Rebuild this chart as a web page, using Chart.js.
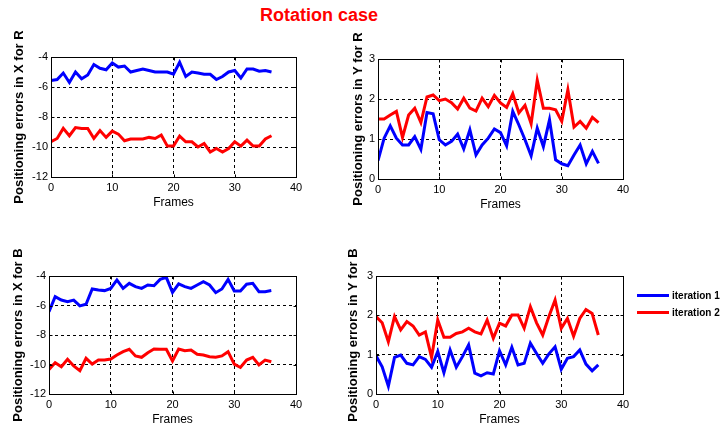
<!DOCTYPE html>
<html>
<head>
<meta charset="utf-8">
<script src="https://cdn.jsdelivr.net/npm/chart.js@4.4.1/dist/chart.umd.min.js"></script>
<style>
body { margin: 0; background: #fff; width: 725px; height: 427px; position: relative; overflow: hidden; font-family: "Liberation Sans", Arial, sans-serif; }
canvas { position: absolute; }
#title { position: absolute; left: 219px; width: 200px; top: 5px; line-height: 20px; text-align: center; color: #f00; font-weight: bold; font-size: 18px; }
.leg-line { position: absolute; left: 637px; width: 32px; height: 3px; }
.leg-text { position: absolute; left: 672px; font-size: 10px; line-height: 12px; font-weight: bold; color: #000; }
</style>
</head>
<body>
<div id="title">Rotation case</div>
<canvas id="c1"></canvas>
<canvas id="c2"></canvas>
<canvas id="c3"></canvas>
<canvas id="c4"></canvas>
<div class="leg-line" style="top:294px;background:#00f"></div>
<div class="leg-text" style="top:290px">iteration 1</div>
<div class="leg-line" style="top:311px;background:#f00"></div>
<div class="leg-text" style="top:307px">iteration 2</div>
<script>
// frame index (x axis)
const frames = [0,1,2,3,4,5,6,7,8,9,10,11,12,13,14,15,16,17,18,19,20,21,22,23,24,25,26,27,28,29,30,31,32,33,34,35,36];
const xTicks = [0, 10, 20, 30, 40];
const yTicksX = [-12, -10, -8, -6, -4];
const yTicksY = [0, 1, 2, 3];
const seriesNames = ['iteration 1', 'iteration 2'];

// X error for R
const xR_it1 = [-5.56,-5.5,-5.07,-5.7,-5.0,-5.45,-5.2,-4.5,-4.75,-4.85,-4.4,-4.67,-4.6,-5.0,-4.9,-4.8,-4.9,-5.0,-5.0,-5.0,-5.15,-4.35,-5.3,-5.0,-5.07,-5.15,-5.15,-5.5,-5.3,-5.0,-4.9,-5.4,-4.8,-4.8,-4.95,-4.9,-5.0];
const xR_it2 = [-9.65,-9.43,-8.76,-9.25,-8.7,-8.76,-8.76,-9.43,-8.9,-9.36,-8.94,-9.14,-9.58,-9.47,-9.47,-9.47,-9.36,-9.43,-9.2,-9.94,-9.94,-9.27,-9.65,-9.65,-10.0,-9.77,-10.33,-10.1,-10.33,-10.1,-9.65,-9.94,-9.54,-9.94,-9.94,-9.47,-9.25];
// Y error for R
const yR_it1 = [0.46,1.02,1.33,1.02,0.85,0.85,1.06,0.74,1.66,1.63,0.98,0.85,0.94,1.12,0.75,1.23,0.6,0.85,1.02,1.25,1.16,0.83,1.69,1.35,0.98,0.58,1.27,0.81,1.48,0.48,0.38,0.33,0.6,0.85,0.38,0.69,0.39];
const yR_it2 = [1.5,1.5,1.6,1.69,1.04,1.6,1.77,1.41,2.05,2.1,1.96,2.0,1.91,1.75,2.02,1.77,1.7,2.02,1.81,2.09,1.9,1.79,2.13,1.65,1.84,1.38,2.47,1.77,1.77,1.73,1.44,2.23,1.3,1.44,1.27,1.54,1.41];
// X error for B
const xB_it1 = [-6.42,-5.4,-5.63,-5.74,-5.63,-6.03,-5.92,-4.88,-4.95,-4.99,-4.84,-4.27,-4.84,-4.5,-4.72,-4.84,-4.61,-4.66,-4.23,-4.09,-5.11,-4.54,-4.72,-4.84,-4.61,-4.38,-4.61,-5.13,-4.88,-4.23,-5.02,-5.02,-4.56,-4.5,-5.06,-5.06,-4.99];
const xB_it2 = [-10.33,-9.88,-10.15,-9.65,-10.1,-10.42,-9.58,-9.97,-9.7,-9.7,-9.63,-9.36,-9.13,-8.97,-9.42,-9.51,-9.2,-8.95,-8.97,-8.97,-9.76,-8.95,-9.06,-9.02,-9.31,-9.36,-9.47,-9.51,-9.42,-9.13,-9.97,-10.2,-9.7,-9.51,-10.03,-9.7,-9.81];
// Y error for B
const yB_it1 = [0.97,0.69,0.2,0.93,0.99,0.78,0.74,0.95,0.88,0.68,1.08,0.54,1.12,0.68,0.95,1.25,0.53,0.46,0.54,0.51,1.1,0.74,1.19,0.74,0.78,1.29,1.03,0.78,1.02,1.2,0.63,0.91,0.95,1.12,0.76,0.59,0.74];
const yB_it2 = [1.97,1.81,1.33,1.97,1.63,1.84,1.73,1.5,1.58,0.93,1.88,1.44,1.44,1.54,1.58,1.67,1.58,1.53,1.88,1.42,1.8,1.73,2.01,2.01,1.67,2.22,1.81,1.5,1.97,2.39,1.67,1.92,1.47,1.92,2.15,2.05,1.5];

const AXW = 50, TOP = 40, RIGHT = 20, AXH = 36;

const panels = [
    { id: 'c1', plot: [51, 57, 296, 177], titleOff: 31.5, label: 'Positioning errors in X for R', it1: xR_it1, it2: xR_it2, yTicks: yTicksX },
    { id: 'c2', plot: [378, 59, 623, 179], titleOff: 20, label: 'Positioning errors in Y for R', it1: yR_it1, it2: yR_it2, yTicks: yTicksY },
    { id: 'c3', plot: [49, 276, 296, 394], titleOff: 31, label: 'Positioning errors in X for B', it1: xB_it1, it2: xB_it2, yTicks: yTicksX },
    { id: 'c4', plot: [376, 276, 623, 394], titleOff: 22.5, label: 'Positioning errors in Y for B', it1: yB_it1, it2: yB_it2, yTicks: yTicksY }
];

// solid frame round the plot area, with small inward ticks like matlab
const boxPlugin = {
    id: 'box',
    afterDraw(chart) {
        const { ctx, chartArea: a, scales } = chart;
        const l = Math.round(a.left) + 0.5, t = Math.round(a.top) + 0.5;
        const r = Math.round(a.right) + 0.5, b = Math.round(a.bottom) + 0.5;
        ctx.save();
        ctx.strokeStyle = '#000';
        ctx.lineWidth = 1;
        ctx.beginPath();
        scales.x.ticks.forEach(tk => {
            const px = Math.round(scales.x.getPixelForValue(tk.value)) + 0.5;
            ctx.moveTo(px, b); ctx.lineTo(px, b - 3);
            ctx.moveTo(px, t); ctx.lineTo(px, t + 3);
        });
        scales.y.ticks.forEach(tk => {
            const py = Math.round(scales.y.getPixelForValue(tk.value)) + 0.5;
            ctx.moveTo(l, py); ctx.lineTo(l + 3, py);
            ctx.moveTo(r, py); ctx.lineTo(r - 3, py);
        });
        ctx.stroke();
        ctx.strokeRect(l, t, r - l, b - t);
        ctx.restore();
    }
};

function makePanel(p) {
    const [pl, pt, pr, pb] = p.plot;
    const canvas = document.getElementById(p.id);
    canvas.width = AXW + (pr - pl) + RIGHT;
    canvas.height = TOP + (pb - pt) + AXH;
    canvas.style.left = (pl - AXW) + 'px';
    canvas.style.top = (pt - TOP) + 'px';

    const yT = p.yTicks;
    new Chart(canvas, {
        type: 'line',
        data: {
            datasets: [
                { label: seriesNames[0], data: frames.map((f, i) => ({ x: f, y: p.it1[i] })), borderColor: '#0000ff', borderWidth: 3, pointRadius: 0, tension: 0, fill: false },
                { label: seriesNames[1], data: frames.map((f, i) => ({ x: f, y: p.it2[i] })), borderColor: '#ff0000', borderWidth: 3, pointRadius: 0, tension: 0, fill: false }
            ]
        },
        options: {
            responsive: false,
            animation: false,
            devicePixelRatio: 1,
            layout: { padding: { top: TOP, right: RIGHT, left: 0, bottom: 0 } },
            plugins: { legend: { display: false }, tooltip: { enabled: false } },
            scales: {
                x: {
                    type: 'linear',
                    min: xTicks[0], max: xTicks[xTicks.length - 1],
                    afterBuildTicks: s => { s.ticks = xTicks.map(v => ({ value: v })); },
                    afterFit: s => { s.height = AXH; },
                    grid: { color: '#000', lineWidth: 1, drawTicks: false },
                    border: { display: false, dash: [3, 3] },
                    ticks: { color: '#000', padding: 4, maxRotation: 0, font: { family: 'Liberation Sans', size: 11 } },
                    title: { display: true, text: 'Frames', color: '#000', padding: { top: 0, bottom: 3 }, font: { family: 'Liberation Sans', size: 12 } }
                },
                y: {
                    min: yT[0], max: yT[yT.length - 1],
                    afterBuildTicks: s => { s.ticks = yT.map(v => ({ value: v })); },
                    afterFit: s => { s.width = AXW; },
                    grid: { color: '#000', lineWidth: 1, drawTicks: false },
                    border: { display: false, dash: [3, 3] },
                    ticks: { color: '#000', padding: 3, font: { family: 'Liberation Sans', size: 11 } },
                    title: { display: true, text: p.label, color: '#000', padding: { top: AXW - p.titleOff - 7.8, bottom: 0 }, font: { family: 'Liberation Sans', size: 13, weight: 'bold' } }
                }
            }
        },
        plugins: [boxPlugin]
    });
}

panels.forEach(makePanel);
</script>
</body>
</html>
